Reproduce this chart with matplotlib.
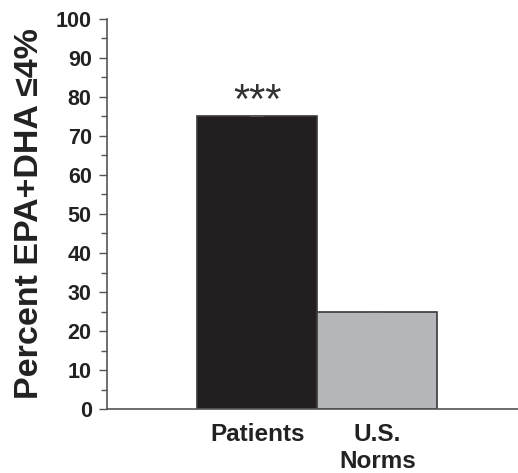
import matplotlib
matplotlib.use("Agg")
import matplotlib.pyplot as plt
from matplotlib.ticker import MultipleLocator

categories = ["Patients", "U.S.\nNorms"]
values = [75, 25]
errors = [0.0, 0.0]
colors = ["#231f20", "#b5b6b9"]
yticks = list(range(0, 101, 10))

plt.rcParams['font.family'] = ['Liberation Sans', 'DejaVu Sans']

fig = plt.figure(figsize=(5.18, 4.73), dpi=100)
ax = fig.add_axes([107/518, 64/473, 411/518, 390/473])

x = list(range(len(categories)))
ax.bar(x, values, width=1.0, color=colors, edgecolor="#3a3a3a", linewidth=1.2, zorder=2)
ax.errorbar(x, values, yerr=errors, fmt="none", ecolor="#555555", capsize=5, capthick=1.2, zorder=3)

ax.set_xlim(-1.25, 2.17)
ax.set_ylim(0, 100)
ax.set_yticks(yticks)
ax.yaxis.set_minor_locator(MultipleLocator(5))
ax.set_xticks(x)
ax.set_xticklabels(categories, fontsize=17.5, fontweight="bold", color="#222222", linespacing=1.25)
ax.tick_params(axis="x", length=0, pad=10)
ax.tick_params(axis="y", which="major", length=6, width=1, color="#555555", labelsize=15.5, labelcolor="#222222", pad=5)
ax.tick_params(axis="y", which="minor", length=4, width=1, color="#555555")
for lbl in ax.get_yticklabels():
    lbl.set_fontweight("bold")

for side in ["top", "right"]:
    ax.spines[side].set_visible(False)
for side in ["left", "bottom"]:
    ax.spines[side].set_color("#555555")
    ax.spines[side].set_linewidth(1.2)

ax.set_ylabel("Percent EPA+DHA ≤4%", fontsize=24.5, fontweight="bold", color="#222222", labelpad=8)

ax.text(x[0], values[0] + 1.0, "***", ha="center", va="baseline", fontsize=30, color="#333333")

fig.savefig("out.png", dpi=100)
